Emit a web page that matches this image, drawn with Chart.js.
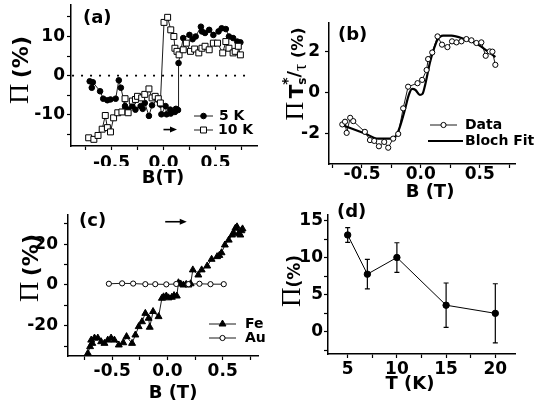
<!DOCTYPE html>
<html>
<head>
<meta charset="utf-8">
<script src="https://cdn.jsdelivr.net/npm/chart.js@4.4.0/dist/chart.umd.min.js"></script>
<style>
  html, body { margin: 0; padding: 0; background: #fff; }
  #wrap { position: relative; width: 542px; height: 409px; }
  #wrap canvas { position: absolute; left: 0; top: 0; }
</style>
</head>
<body>
<div id="wrap">
  <canvas id="pa" width="542" height="409"></canvas>
  <canvas id="pb" width="542" height="409"></canvas>
  <canvas id="pc" width="542" height="409"></canvas>
  <canvas id="pd" width="542" height="409"></canvas>
</div>
<script>
// ---- panel (a): polarization vs field, 5 K and 10 K
const a5_B = [-0.71,-0.69,-0.68,-0.61,-0.58,-0.54,-0.51,-0.46,-0.43,-0.41,-0.37,-0.34,-0.30,-0.27,-0.22,-0.20,-0.18,-0.14,-0.11,-0.06,-0.03,-0.02,0.02,0.03,0.065,0.07,0.11,0.12,0.14,0.145,0.19,0.25,0.28,0.31,0.36,0.37,0.40,0.44,0.48,0.53,0.56,0.60,0.63,0.67,0.71,0.74];
const a5_P = [-1.45,-3.1,-1.7,-4.0,-5.9,-6.3,-6.1,-5.9,-1.2,-3.1,-7.8,-8.7,-7.8,-8.7,-7.8,-8.5,-7.0,-10.3,-7.6,-6.1,-7.4,-9.9,-7.8,-9.9,-8.7,-9.7,-9.3,-8.5,-8.8,3.2,9.6,10.4,9.3,10.0,12.5,11.3,10.9,11.7,10.4,11.3,12.1,11.9,10.0,9.6,8.7,8.5];
const a10_B = [-0.72,-0.67,-0.63,-0.59,-0.56,-0.54,-0.51,-0.48,-0.44,-0.40,-0.37,-0.34,-0.30,-0.27,-0.25,-0.21,-0.18,-0.14,-0.11,-0.08,-0.05,-0.03,0.005,0.04,0.07,0.10,0.11,0.13,0.15,0.19,0.22,0.26,0.30,0.34,0.37,0.40,0.44,0.48,0.52,0.57,0.60,0.63,0.67,0.69,0.72,0.74];
const a10_P = [-15.9,-16.3,-15.3,-13.7,-10.2,-13.3,-14.4,-10.8,-9.5,-9.3,-5.9,-9.5,-6.5,-6.1,-5.3,-5.7,-4.8,-3.4,-5.7,-5.3,-5.9,-7.0,13.6,14.9,11.7,10.0,7.0,6.2,5.3,6.6,8.3,6.2,6.8,5.8,7.0,7.5,6.6,8.3,8.3,5.8,8.7,7.0,5.8,6.2,7.5,5.3];
const a_zeroB = [-0.88, 0.84];
const a_xTicks = [-0.75,-0.5,-0.25,0,0.25,0.5,0.75];
const a_xLabels = [-0.5,0,0.5];
const a_yTicks = [-15,-10,-5,0,5,10,15];
const a_yLabels = [-10,0,10];

// ---- panel (b): normalized data and Bloch fit
const b_B = [-0.667,-0.644,-0.63,-0.60,-0.574,-0.475,-0.432,-0.396,-0.356,-0.311,-0.277,-0.235,-0.192,-0.15,-0.108,-0.028,0.011,0.049,0.062,0.097,0.142,0.18,0.226,0.265,0.303,0.345,0.387,0.43,0.472,0.514,0.551,0.585,0.608,0.633];
const b_P = [-1.54,-1.41,-1.95,-1.22,-1.38,-1.9,-2.3,-2.34,-2.6,-2.39,-2.67,-2.23,-2.0,-0.76,0.29,0.46,0.62,1.1,1.63,1.95,2.73,2.33,2.21,2.49,2.44,2.49,2.6,2.54,2.41,2.44,1.79,2.0,1.99,1.35];
const bFit_B = [-0.68,-0.475,-0.362,-0.248,-0.206,-0.178,-0.136,-0.102,-0.074,-0.045,-0.008,0.014,0.04,0.076,0.104,0.142,0.189,0.26,0.373,0.486,0.57,0.633];
const bFit_P = [-1.55,-1.98,-2.23,-2.23,-2.06,-1.66,-0.84,-0.11,0.18,0.13,-0.11,-0.06,0.46,1.43,2.0,2.57,2.77,2.77,2.6,2.33,2.0,1.73];
const b_xTicks = [-0.75,-0.5,-0.25,0,0.25,0.5,0.75];
const b_xLabels = [-0.5,0,0.5];
const b_yTicks = [-2,0,2];
const b_yLabels = [-2,0,2];

// ---- panel (c): Fe and Au
const cFe_B = [-0.72,-0.70,-0.69,-0.68,-0.66,-0.63,-0.60,-0.57,-0.54,-0.51,-0.48,-0.44,-0.40,-0.37,-0.32,-0.29,-0.26,-0.23,-0.20,-0.17,-0.16,-0.13,-0.08,-0.05,-0.035,-0.01,0.01,0.04,0.06,0.085,0.10,0.12,0.145,0.17,0.19,0.21,0.23,0.28,0.31,0.36,0.40,0.45,0.47,0.49,0.52,0.555,0.585,0.60,0.615,0.63,0.645,0.66,0.67,0.68];
const cFe_P = [-33.5,-30.2,-27,-28.6,-26,-26,-27.8,-28.6,-27,-26,-27,-29.4,-28.3,-25.3,-28.6,-24.5,-20.4,-18,-13.9,-16.3,-20.7,-13,-15.5,-6.5,-5.8,-5.4,-6.3,-6,-5.2,-5.4,1.1,0.5,0,0.3,0,0.6,7.4,4.9,7.4,9.3,12.6,13.9,14.5,15.8,19.6,22,24.5,25.5,27.8,28.5,25.3,24.5,26.6,27.5];
const cAu_B = [-0.53,-0.41,-0.31,-0.20,-0.11,-0.01,0.08,0.19,0.29,0.39,0.51];
const cAu_P = [0.6,0.8,0.7,0.4,0.4,0.3,0.5,0.4,0.6,0.4,0.4];
const c_xTicks = [-0.75,-0.5,-0.25,0,0.25,0.5,0.75];
const c_xLabels = [-0.5,0,0.5];
const c_yTicks = [-30,-20,-10,0,10,20,30];
const c_yLabels = [-20,0,20];

// ---- panel (d): polarization vs temperature
const d_T = [5, 7, 10, 15, 20];
const d_P = [13.1, 7.8, 10.05, 3.6, 2.5];
const d_err = [1.0, 2.0, 2.0, 3.0, 4.0];
const d_xTicks = [5,7.5,10,12.5,15,17.5,20];
const d_xLabels = [5,10,15,20];
const d_yTicks = [-2.5,0,2.5,5,7.5,10,12.5,15];
const d_yLabels = [0,5,10,15];

const SANS = '"DejaVu Sans", "Liberation Sans", sans-serif';
const SERIF = '"Liberation Serif", "DejaVu Serif", serif';
const pts = (xs, ys) => xs.map((x, i) => ({ x: x, y: ys[i] }));
const fmtB = v => v.toFixed(1);
const fmtI = v => String(v);

function axis(o) {
  return {
    type: 'linear', min: o.min, max: o.max,
    afterBuildTicks: s => { s.ticks = o.ticks.map(v => ({ value: v })); },
    afterFit: s => {
      if (o.width != null) s.width = o.width;
      if (o.height != null) s.height = o.height;
      s.paddingLeft = s.paddingRight = s.paddingTop = s.paddingBottom = 0;
    },
    grid: { drawOnChartArea: false, drawTicks: true, tickLength: 4, tickColor: '#000', tickWidth: 1.2 },
    border: { display: true, color: '#000', width: 1.5 },
    ticks: {
      color: '#000', font: { family: SANS, size: 17, weight: 'bold' },
      padding: o.pad, autoSkip: false, maxRotation: 0, minRotation: 0,
      callback: v => o.labels.includes(v) ? o.fmt(v) : ''
    }
  };
}

function marker(ctx, style, x, y, r, fill) {
  ctx.fillStyle = fill;
  ctx.lineWidth = 1;
  ctx.beginPath();
  if (style === 'circle') ctx.arc(x, y, r, 0, Math.PI * 2);
  else if (style === 'rect') { const s = r * Math.SQRT1_2; ctx.rect(x - s, y - s, 2 * s, 2 * s); }
  else if (style === 'triangle') {
    for (let k = 0; k < 3; k++) {
      const a = k * 2 * Math.PI / 3;
      ctx[k ? 'lineTo' : 'moveTo'](x + Math.sin(a) * r, y - Math.cos(a) * r);
    }
    ctx.closePath();
  }
  ctx.fill();
  ctx.stroke();
}

function richTitle(ctx, t) {
  ctx.save();
  ctx.translate(t.x, t.y);
  ctx.rotate(-Math.PI / 2);
  ctx.textBaseline = 'alphabetic';
  ctx.textAlign = 'left';
  let w = 0;
  t.parts.forEach(p => { ctx.font = p.font; if (!p.stack) w += ctx.measureText(p.t).width; });
  let cx = -w / 2;
  t.parts.forEach(p => {
    ctx.font = p.font;
    ctx.fillText(p.t, cx, p.dy || 0);
    if (!p.stack) cx += ctx.measureText(p.t).width;
  });
  ctx.restore();
}

const deco = {
  id: 'deco',
  beforeDatasetsDraw(chart, args, o) {
    if (!o.errors) return;
    const ctx = chart.ctx, xs = chart.scales.x, ys = chart.scales.y;
    ctx.save();
    ctx.strokeStyle = '#000';
    ctx.lineWidth = 1.2;
    o.errors.x.forEach((xv, i) => {
      const px = xs.getPixelForValue(xv);
      const lo = ys.getPixelForValue(o.errors.y[i] - o.errors.e[i]);
      const hi = ys.getPixelForValue(o.errors.y[i] + o.errors.e[i]);
      ctx.beginPath();
      ctx.moveTo(px, lo); ctx.lineTo(px, hi);
      ctx.moveTo(px - 2.5, lo); ctx.lineTo(px + 2.5, lo);
      ctx.moveTo(px - 2.5, hi); ctx.lineTo(px + 2.5, hi);
      ctx.stroke();
    });
    ctx.restore();
  },
  afterDraw(chart, args, o) {
    const ctx = chart.ctx, xs = chart.scales.x, ys = chart.scales.y;
    ctx.save();
    ctx.fillStyle = '#000';
    ctx.strokeStyle = '#000';
    (o.texts || []).forEach(t => {
      ctx.font = t.font;
      ctx.textAlign = t.align || 'center';
      ctx.textBaseline = 'middle';
      ctx.fillText(t.text, t.x, t.y);
    });
    if (o.ytitle) richTitle(ctx, o.ytitle);
    (o.arrows || []).forEach(a => {
      const x0 = xs.getPixelForValue(a.x0), x1 = xs.getPixelForValue(a.x1), y = ys.getPixelForValue(a.y);
      ctx.lineWidth = 1.6;
      ctx.beginPath(); ctx.moveTo(x0, y); ctx.lineTo(x1 - 5, y); ctx.stroke();
      ctx.beginPath(); ctx.moveTo(x1, y); ctx.lineTo(x1 - 7, y - 3); ctx.lineTo(x1 - 7, y + 3); ctx.closePath(); ctx.fill();
    });
    (o.legend || []).forEach(it => {
      ctx.strokeStyle = '#000';
      ctx.lineWidth = it.lw;
      ctx.beginPath(); ctx.moveTo(it.x0, it.y); ctx.lineTo(it.x1, it.y); ctx.stroke();
      if (it.style) marker(ctx, it.style, (it.x0 + it.x1) / 2, it.y, it.r, it.fill);
      ctx.fillStyle = '#000';
      ctx.font = 'bold 14px ' + SANS;
      ctx.textAlign = 'left';
      ctx.textBaseline = 'middle';
      ctx.fillText(it.text, it.tx, it.y);
    });
    ctx.restore();
  }
};

const W = 542, H = 409;
function panel(id, box, datasets, xo, yo, deco) {
  new Chart(document.getElementById(id), {
    type: 'scatter',
    data: { datasets: datasets },
    options: {
      responsive: false, animation: false, events: [],
      layout: { padding: { left: 0, top: box.T, right: W - box.R, bottom: H - box.B - 20 } },
      scales: {
        x: axis(Object.assign({ height: 20 }, xo)),
        y: axis(Object.assign({ width: box.L }, yo))
      },
      plugins: { legend: { display: false }, tooltip: { enabled: false }, deco: deco }
    },
    plugins: [window.decoPlugin]
  });
}
window.decoPlugin = deco;

const thin = { borderColor: '#000', borderWidth: 0.9, showLine: true, pointBorderColor: '#000', pointBorderWidth: 1, clip: false };
const bold = w => 'bold ' + w + 'px ' + SANS;

// (a)
panel('pa', { L: 71, T: 5, R: 257, B: 146 }, [
  { data: pts(a_zeroB, [0, 0]), showLine: true, borderColor: '#000', borderWidth: 1.6, borderDash: [2, 7], pointRadius: 0 },
  Object.assign({ data: pts(a10_B, a10_P), pointStyle: 'rect', pointRadius: 4.2, pointBackgroundColor: '#fff' }, thin),
  Object.assign({ data: pts(a5_B, a5_P), pointStyle: 'circle', pointRadius: 2.8, pointBackgroundColor: '#000' }, thin)
], { min: -0.89, max: 0.9, ticks: a_xTicks, labels: a_xLabels, fmt: fmtB, pad: 3 },
   { min: -18, max: 18, ticks: a_yTicks, labels: a_yLabels, fmt: fmtI, pad: 2 },
{
  texts: [
    { text: '(a)', x: 83, y: 18, align: 'left', font: bold(18) },
    { text: 'B(T)', x: 163, y: 178, font: bold(18) }
  ],
  ytitle: { x: 28, y: 70, parts: [
    { t: 'Π', font: '28px ' + SERIF }, { t: ' ', font: bold(16) }, { t: '(%)', font: bold(22) }
  ] },
  arrows: [{ x0: 0.0, x1: 0.13, y: -13.8 }],
  legend: [
    { x0: 194, x1: 213, y: 116, lw: 0.9, style: 'circle', r: 2.8, fill: '#000', text: '5 K', tx: 219 },
    { x0: 194, x1: 213, y: 130, lw: 0.9, style: 'rect', r: 4.2, fill: '#fff', text: '10 K', tx: 218 }
  ]
});

// (b)
panel('pb', { L: 329, T: 23, R: 515, B: 164 }, [
  Object.assign({ data: pts(b_B, b_P), pointStyle: 'circle', pointRadius: 2.6, pointBackgroundColor: '#fff' }, thin),
  { data: pts(bFit_B, bFit_P), showLine: true, borderColor: '#000', borderWidth: 2.2, pointRadius: 0, cubicInterpolationMode: 'monotone' }
], { min: -0.78, max: 0.80, ticks: b_xTicks, labels: b_xLabels, fmt: fmtB, pad: -4 },
   { min: -3.46, max: 3.38, ticks: b_yTicks, labels: b_yLabels, fmt: fmtI, pad: 5 },
{
  texts: [
    { text: '(b)', x: 338, y: 35, align: 'left', font: bold(18) },
    { text: 'B (T)', x: 430, y: 192, font: bold(18) }
  ],
  ytitle: { x: 303, y: 74, parts: [
    { t: 'Π', font: '26px ' + SERIF }, { t: ' ', font: bold(10) }, { t: 'T', font: bold(20) },
    { t: '*', font: bold(14), dy: -11, stack: true }, { t: 's', font: bold(12), dy: 3 },
    { t: '/', font: bold(18), dy: -3 }, { t: 'τ', font: '18px ' + SERIF, dy: 3 },
    { t: ' (%)', font: bold(16) }
  ] },
  legend: [
    { x0: 430, x1: 457, y: 125, lw: 0.9, style: 'circle', r: 2.6, fill: '#fff', text: 'Data', tx: 465 },
    { x0: 428, x1: 463, y: 141, lw: 2.2, text: 'Bloch Fit', tx: 465 }
  ]
});

// (c)
panel('pc', { L: 68, T: 215, R: 258, B: 356 }, [
  Object.assign({ data: pts(cAu_B, cAu_P), pointStyle: 'circle', pointRadius: 2.6, pointBackgroundColor: '#fff' }, thin),
  Object.assign({ data: pts(cFe_B, cFe_P), pointStyle: 'triangle', pointRadius: 4, pointBackgroundColor: '#000' }, thin)
], { min: -0.9, max: 0.82, ticks: c_xTicks, labels: c_xLabels, fmt: fmtB, pad: 1 },
   { min: -34.8, max: 34.3, ticks: c_yTicks, labels: c_yLabels, fmt: fmtI, pad: 6 },
{
  texts: [
    { text: '(c)', x: 79, y: 221, align: 'left', font: bold(18) },
    { text: 'B (T)', x: 173, y: 393, font: bold(18) }
  ],
  ytitle: { x: 38, y: 268, parts: [
    { t: 'Π', font: '28px ' + SERIF }, { t: ' ', font: bold(16) }, { t: '(%)', font: bold(22) }
  ] },
  arrows: [{ x0: -0.02, x1: 0.175, y: 31 }],
  legend: [
    { x0: 209, x1: 236, y: 324, lw: 0.9, style: 'triangle', r: 4, fill: '#000', text: 'Fe', tx: 245 },
    { x0: 209, x1: 236, y: 338, lw: 0.9, style: 'circle', r: 2.6, fill: '#fff', text: 'Au', tx: 245 }
  ]
});

// (d)
panel('pd', { L: 328, T: 215, R: 515, B: 354 }, [
  { data: pts(d_T, d_P), showLine: true, borderColor: '#000', borderWidth: 1, pointStyle: 'circle', pointRadius: 3.2, pointBackgroundColor: '#000', pointBorderColor: '#000', clip: false }
], { min: 3, max: 22, ticks: d_xTicks, labels: d_xLabels, fmt: fmtI, pad: 1 },
   { min: -3, max: 15.8, ticks: d_yTicks, labels: d_yLabels, fmt: fmtI, pad: 1 },
{
  texts: [
    { text: '(d)', x: 337, y: 212, align: 'left', font: bold(18) },
    { text: 'T (K)', x: 410, y: 384, font: bold(18) }
  ],
  ytitle: { x: 300, y: 281, parts: [
    { t: 'Π', font: '27px ' + SERIF }, { t: '(%)', font: bold(17) }
  ] },
  errors: { x: d_T, y: d_P, e: d_err }
});
</script>
</body>
</html>
